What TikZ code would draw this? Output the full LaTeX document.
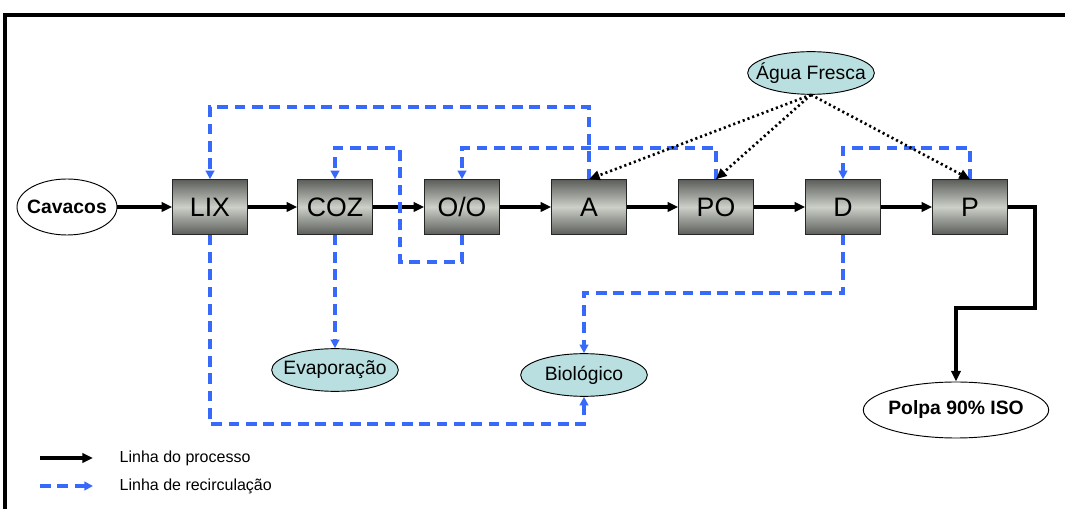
\documentclass[tikz,border=0pt]{standalone}
\usepackage{fontspec}
\setmainfont{Liberation Sans}
\usetikzlibrary{shapes.geometric,arrows.meta}

\definecolor{recblue}{RGB}{55,105,250}
\definecolor{tealfill}{RGB}{185,223,224}
\definecolor{boxdark}{RGB}{92,94,91}
\definecolor{boxlight}{RGB}{203,208,200}

\begin{document}
\begin{tikzpicture}[x=0.75pt,y=-0.75pt,
		stage/.style={rectangle,draw=black!85,line width=0.7pt,top color=boxdark,bottom color=boxdark,middle color=boxlight,
				minimum width=56pt,minimum height=41pt,inner sep=0pt,font=\fontsize{20}{24}\selectfont},
		endpoint/.style={ellipse,draw,line width=0.7pt,fill=white,inner xsep=-6pt,inner ysep=0pt,font=\fontsize{14.5}{17}\selectfont\bfseries},
		sink/.style={ellipse,draw,line width=0.7pt,fill=tealfill,inner xsep=-8pt,inner ysep=0pt,minimum width=95pt,minimum height=32pt,
				font=\fontsize{14.5}{17}\selectfont},
		procline/.style={line width=2.6pt,-{Triangle[length=8pt,width=7pt]}},
		recline/.style={recblue,line width=2.6pt,dash pattern=on 8pt off 5pt,-{Triangle[length=6.5pt,width=6.5pt]}},
		freshline/.style={line width=2pt,dash pattern=on 1.6pt off 2.2pt,-{Triangle[length=8pt,width=7pt]}},
		legtext/.style={anchor=west,font=\fontsize{12}{14}\selectfont}]
		\useasboundingbox (0,0) rectangle (1065,509);

		% Frame
		\draw[line width=3pt] (5,509) -- (5,15) -- (1065,15);

		% Stages
		\foreach \name/\lbl/\x in {lix/LIX/210,coz/COZ/335,oo/{O/O}/462,a/A/589,po/PO/716,d/D/843,p/P/970} {
				\node[stage] (\name) at (\x,207) {\lbl};
			}

		% Inlet, outlet and sinks
		\node[endpoint,minimum width=75pt,minimum height=42pt] (cav) at (67,207) {Cavacos};
		\node[endpoint,minimum width=139pt,minimum height=42pt] (polpa) at (956,410) {Polpa 90\% ISO};
		\node[sink] (agua) at (811,73) {Água Fresca};
		\node[sink] (evap) at (335,370) {Evaporação};
		\node[sink] (bio) at (584,375) {Biológico};

		% Process line
		\foreach \a/\b in {cav/lix,lix/coz,coz/oo,oo/a,a/po,po/d,d/p} {
				\draw[procline] (\a) -- (\b);
			}
		\draw[procline] (p.east) -| (1035,308) -| (polpa.north);

		% Recirculation
		\draw[recline] (a.north) -- (a.north |- 0,107) -| (lix.north);
		\draw[recline] (po.north) -- (po.north |- 0,148) -| (oo.north);
		\draw[recline] (oo.south) -- (oo.south |- 0,262) -| (400,148) -| (coz.north);
		\draw[recline] (p.north) -- (p.north |- 0,148) -| (d.north);
		\draw[recline] (coz.south) -- (evap.north);
		\draw[recline] (d.south) -- (d.south |- 0,293) -| (bio.north);
		\draw[recline] (lix.south) -- (lix.south |- 0,424) -| (bio.south);

		% Fresh water
		\foreach \t in {a,po,p} {
				\draw[freshline] (agua.south) -- (\t.north);
			}

		% Legend
		\coordinate (procA) at (40,458);
		\coordinate (procB) at (93,458);
		\coordinate (recA) at (40,486);
		\coordinate (recB) at (93,486);
		\draw[procline] (procA) -- (procB);
		\draw[recline] (recA) -- (recB);
		\node[legtext] (proctext) at (115,458) {Linha do processo};
		\node[legtext] (rectext) at (115,486) {Linha de recirculação};
	\end{tikzpicture}
\end{document}
